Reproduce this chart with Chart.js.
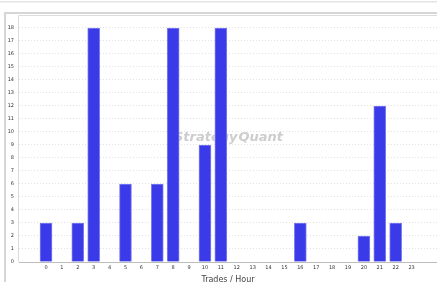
<!DOCTYPE html>
<html>
<head>
<meta charset="utf-8">
<script src="https://cdn.jsdelivr.net/npm/chart.js@4/dist/chart.umd.min.js"></script>
<style>
  html, body { margin: 0; padding: 0; background: #fff; overflow: hidden; }
  #wrap { position: relative; width: 437px; height: 282px; overflow: hidden; }
  canvas { position: absolute; left: 0; top: 0; }
</style>
</head>
<body>
<div id="wrap"><canvas id="chart" width="437" height="292"></canvas></div>
<script>
// hour of day and number of trades opened in that hour
const hours = [0, 1, 2, 3, 4, 5, 6, 7, 8, 9, 10, 11, 12, 13, 14, 15, 16, 17, 18, 19, 20, 21, 22, 23];
const trades = [3, 0, 3, 18, 0, 6, 0, 6, 18, 0, 9, 18, 0, 0, 0, 0, 3, 0, 0, 0, 2, 12, 3, 0];
const yTicks = [0, 1, 2, 3, 4, 5, 6, 7, 8, 9, 10, 11, 12, 13, 14, 15, 16, 17, 18];
const xTitle = "Trades / Hour";
const watermark = ["Strategy", "Quant"];

// grey panel frame around the plot, like the desktop app
const framePlugin = {
  id: "frame",
  beforeDraw(c) {
    const ctx = c.ctx;
    const a = c.chartArea;
    ctx.save();
    ctx.fillStyle = "#e4e4e4";
    ctx.fillRect(0, 1, 437, 1.5);
    ctx.fillStyle = "#d6d6d6";
    ctx.fillRect(4, 12, 433, 2);
    ctx.fillRect(4, 12, 2, 290);
    ctx.strokeStyle = "#dcdcdc";
    ctx.lineWidth = 1;
    ctx.beginPath();
    ctx.moveTo(a.left - 0.5, a.bottom);
    ctx.lineTo(a.left - 0.5, a.top - 0.5);
    ctx.lineTo(a.right, a.top - 0.5);
    ctx.stroke();
    ctx.restore();
  },
  beforeDatasetsDraw(c) {
    const ctx = c.ctx;
    ctx.save();
    ctx.font = "italic bold 13px 'DejaVu Sans'";
    ctx.textBaseline = "middle";
    const w1 = ctx.measureText(watermark[0]).width;
    const w2 = ctx.measureText(watermark[1]).width;
    const x = 228 - (w1 + w2) / 2;
    ctx.fillStyle = "#cdcdcd";
    ctx.fillText(watermark[0], x, 138);
    ctx.fillText(watermark[1], x + w1 + 1, 138);
    ctx.restore();
  },
};

new Chart(document.getElementById("chart"), {
  type: "bar",
  data: {
    labels: hours,
    datasets: [{
      data: hours.map((h, i) => ({ x: h, y: trades[i] })),
      backgroundColor: "#3a3ae8",
      borderColor: "#8080f0",
      borderWidth: 1,
      barThickness: 12,
    }],
  },
  options: {
    responsive: false,
    animation: false,
    layout: { padding: { top: 16, left: 0, right: 0, bottom: 0 } },
    scales: {
      x: {
        type: "linear",
        offset: false,
        min: -1.7,
        max: 24.6,
        afterBuildTicks: (s) => { s.ticks = hours.map((v) => ({ value: v })); },
        afterFit: (s) => { s.height = 30; },
        grid: { display: false, drawTicks: false },
        border: { display: true, color: "#bdbdbd" },
        ticks: { color: "#333", font: { size: 5, family: "DejaVu Sans" }, padding: 3, autoSkip: false, maxRotation: 0 },
        title: { display: true, text: xTitle, color: "#444", font: { size: 8, family: "DejaVu Sans" }, padding: { top: 0, bottom: 7 } },
      },
      y: {
        min: 0,
        max: 18.92,
        afterBuildTicks: (s) => { s.ticks = yTicks.map((v) => ({ value: v })); },
        afterFit: (s) => { s.width = 19; },
        grid: { color: "#e2e2e2", lineWidth: 1, drawTicks: false },
        border: { display: false, dash: [1, 2] },
        ticks: { color: "#333", font: { size: 5, family: "DejaVu Sans" }, padding: 5 },
      },
    },
    plugins: { legend: { display: false }, tooltip: { enabled: false } },
  },
  plugins: [framePlugin],
});
</script>
</body>
</html>
